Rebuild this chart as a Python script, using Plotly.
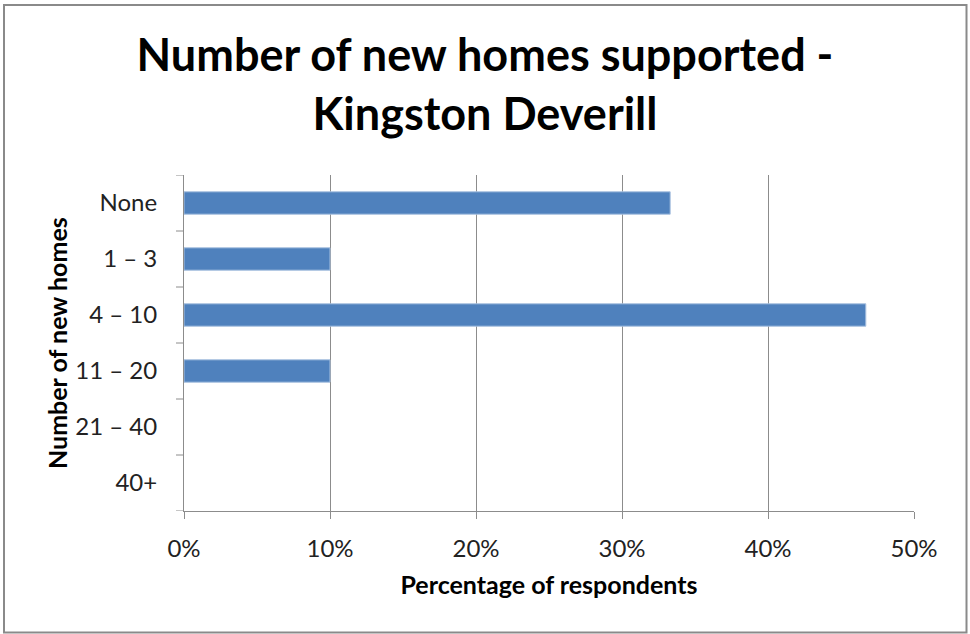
import plotly.graph_objects as go

# Survey responses: share of respondents supporting each number of new homes
categories = ["None", "1 – 3", "4 – 10", "11 – 20", "21 – 40", "40+"]
percent_respondents = [33.3, 10.0, 46.7, 10.0, 0.0, 0.0]
x_tick_values = [0, 10, 20, 30, 40, 50]
x_tick_labels = ["0%", "10%", "20%", "30%", "40%", "50%"]

W, H = 970, 634
L, R, T, B = 184, 56, 175, 123
pw, ph = W - L - R, H - T - B

FONT = "Lato, Carlito, Calibri, sans-serif"
BAR = "#4f81bd"

fig = go.Figure(
    go.Bar(
        y=categories,
        x=percent_respondents,
        orientation="h",
        marker=dict(
            color=BAR,
            line=dict(
                color="#a9c1e0",
                width=[1 if v > 0 else 0 for v in percent_respondents],
            ),
        ),
        width=0.4,
        hoverinfo="skip",
    )
)


def px_x(p):
    return (p - L) / pw


def px_y(p):
    return (H - B - p) / ph


fig.update_layout(
    width=W,
    height=H,
    margin=dict(l=L, r=R, t=T, b=B),
    paper_bgcolor="white",
    plot_bgcolor="white",
    showlegend=False,
    font=dict(family=FONT, color="#000000"),
    title=dict(
        text="<b>Number of new homes supported -<br>Kingston Deverill</b>",
        x=0.5,
        xanchor="center",
        y=1 - 71 / H,
        yanchor="middle",
        font=dict(family=FONT, size=45, color="#000000"),
    ),
    xaxis=dict(
        range=[0, 50],
        tickvals=x_tick_values,
        ticktext=x_tick_labels,
        showgrid=True,
        gridcolor="#8c8c8c",
        gridwidth=1,
        zeroline=False,
        showline=True,
        linecolor="#8c8c8c",
        linewidth=1,
        ticks="outside",
        ticklen=7,
        tickcolor="#8c8c8c",
        ticklabelstandoff=9,
        tickfont=dict(size=24, color="#222222"),
        title=dict(
            text="<b>Percentage of respondents</b>",
            font=dict(size=25, color="#000000"),
            standoff=15,
        ),
    ),
    yaxis=dict(
        categoryorder="array",
        categoryarray=categories[::-1],
        range=[-0.5, 5.5],
        showgrid=False,
        zeroline=False,
        showline=True,
        linecolor="#8c8c8c",
        linewidth=1,
        ticks="",
        ticklabelstandoff=21,
        tickfont=dict(size=24, color="#222222"),
    ),
)

# Vertical axis title
fig.add_annotation(
    text="<b>Number of new homes</b>",
    xref="paper",
    yref="paper",
    x=px_x(57),
    y=px_y(343),
    xanchor="center",
    yanchor="middle",
    textangle=-90,
    showarrow=False,
    font=dict(family=FONT, size=25, color="#000000"),
)

# Tick marks between category bands on the vertical axis
for i in range(7):
    yv = -0.5 + i
    fig.add_shape(
        type="line",
        xref="paper",
        yref="y",
        x0=px_x(176),
        x1=0,
        y0=yv,
        y1=yv,
        line=dict(color="#8c8c8c", width=1),
    )

# Outer frame around the whole chart
fig.add_shape(
    type="rect",
    xref="paper",
    yref="paper",
    x0=px_x(4),
    x1=px_x(966.5),
    y0=px_y(632.5),
    y1=px_y(5),
    line=dict(color="#8a8a8a", width=2),
    fillcolor="rgba(0,0,0,0)",
    layer="above",
)

fig.write_html("out.html")
